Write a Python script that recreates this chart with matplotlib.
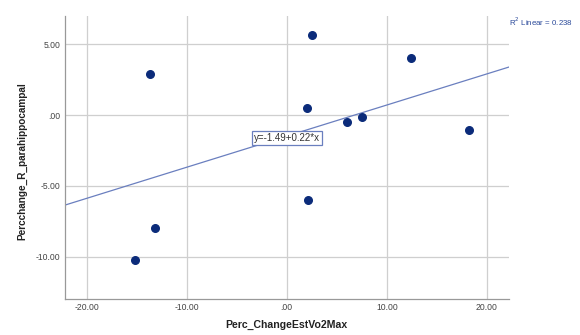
import matplotlib
matplotlib.use("Agg")
import numpy as np
import matplotlib.pyplot as plt

plt.rcParams["font.family"] = ["Liberation Sans", "DejaVu Sans"]

# Change in estimated VO2max vs change in right parahippocampal volume (%)
vo2max_change = [-13.65, 2.55, 12.45, 2.05, 6.0, 7.5, 18.2, 2.1, -13.15, -15.2]
parahippo_change = [2.87, 5.67, 4.02, 0.47, -0.47, -0.14, -1.04, -6.03, -7.98, -10.24]

intercept = -1.49
slope = 0.22
r2 = 0.238

x_ticks = [-20, -10, 0, 10, 20]
y_ticks = [-10, -5, 0, 5]


def fmt(v):
    s = f"{v:.2f}"
    if s.startswith("0."):
        s = s[1:]
    return s


fig = plt.figure(figsize=(5.8, 3.35), dpi=100)
ax = fig.add_axes([64.5 / 580, 1 - 299 / 335, (509 - 64.5) / 580, (299 - 16) / 335])

ax.set_xlim(-22.2, 22.2)
ax.set_ylim(-13.0, 7.0)

ax.set_xticks(x_ticks)
ax.set_yticks(y_ticks)
ax.set_xticklabels([fmt(v) for v in x_ticks])
ax.set_yticklabels([fmt(v) for v in y_ticks])
ax.tick_params(axis="both", length=0, labelsize=6.2, colors="#444444", pad=3)

ax.grid(True, color="#cfcfcf", linewidth=0.9)
ax.set_axisbelow(True)
for side in ["top", "right"]:
    ax.spines[side].set_visible(False)
for side in ["left", "bottom"]:
    ax.spines[side].set_color("#999999")
    ax.spines[side].set_linewidth(0.9)

# linear fit line across the whole x range
xl = np.array(ax.get_xlim())
ax.plot(xl, intercept + slope * xl, color="#6a7fbf", linewidth=0.9, zorder=2)

ax.scatter(vo2max_change, parahippo_change, s=30, color="#0b2b7a",
           edgecolors="#0b2b7a", zorder=3)

ax.text(0, -1.62, f"y=-{abs(intercept):.2f}+{slope:.2f}*x", fontsize=7,
        ha="center", va="center", color="#333333", zorder=4,
        bbox=dict(boxstyle="square,pad=0.22", facecolor="white",
                  edgecolor="#6a7fbf", linewidth=0.9))

fig.text(509 / 580, 1 - 22 / 335, f"R$^2$ Linear = {r2:.3f}", fontsize=5.7,
         color="#2b4a9a", ha="left", va="center")

fig.text(286 / 580, 1 - 325 / 335, "Perc_ChangeEstVo2Max", fontsize=7.6,
         fontweight="bold", color="#222222", ha="center", va="center")
fig.text(22 / 580, 1 - 161 / 335, "Percchange_R_parahippocampal", fontsize=7.2,
         fontweight="bold", color="#222222", ha="center", va="center",
         rotation=90)

fig.savefig("out.png", dpi=100)
